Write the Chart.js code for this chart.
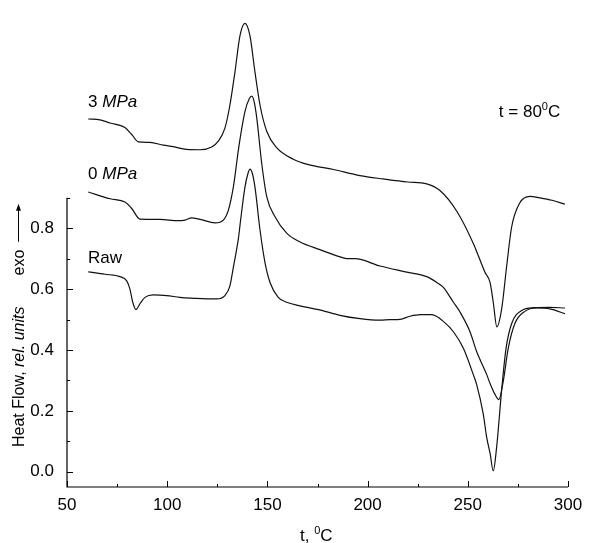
<!DOCTYPE html>
<html>
<head>
<meta charset="utf-8">
<script src="https://cdn.jsdelivr.net/npm/chart.js@4.4.0/dist/chart.umd.min.js"></script>
<style>
  html, body { margin: 0; padding: 0; background: #fff; }
  #wrap { width: 601px; height: 543px; }
</style>
</head>
<body>
<div id="wrap"><canvas id="chart"></canvas></div>
<script>
// DSC curves (t in degC, heat flow in rel. units)
const rawT = [60.6, 69.0, 76.4, 79.8, 81.4, 82.8, 84.4, 86.4, 88.9, 93.1, 99.7, 106.4, 113.0, 119.7, 124.7, 128.8, 131.3, 133.1, 135.5, 136.6, 138.8, 140.3, 141.3, 142.5, 143.8, 146.3, 148.8, 151.3, 155.4, 160.0, 166.3, 177.1, 186.2, 196.2, 206.2, 211.2, 216.2, 221.2, 226.4, 232.0, 238.5, 242.8, 247.8, 252.7, 254.4, 257.7, 259.4, 261.1, 262.7, 264.4, 266.9, 269.1, 271.9, 276.9, 282.7, 291.0, 298.5];
const rawHF = [0.657, 0.649, 0.641, 0.627, 0.600, 0.557, 0.533, 0.552, 0.573, 0.581, 0.579, 0.573, 0.570, 0.568, 0.568, 0.579, 0.611, 0.675, 0.765, 0.825, 0.935, 0.980, 0.994, 0.980, 0.935, 0.795, 0.687, 0.622, 0.573, 0.556, 0.545, 0.530, 0.514, 0.503, 0.498, 0.500, 0.501, 0.511, 0.516, 0.516, 0.490, 0.460, 0.406, 0.320, 0.287, 0.190, 0.114, 0.061, 0.003, 0.082, 0.270, 0.406, 0.487, 0.530, 0.539, 0.540, 0.538];

const mpa0T = [60.6, 71.5, 78.9, 82.3, 86.4, 96.4, 105.5, 108.9, 112.2, 116.4, 123.9, 128.0, 130.5, 133.0, 135.8, 138.8, 141.0, 142.2, 143.4, 144.7, 147.2, 149.7, 153.8, 159.6, 166.3, 176.2, 187.9, 190.5, 193.7, 206.2, 219.5, 229.5, 234.5, 237.8, 242.8, 246.1, 251.1, 254.4, 259.4, 261.1, 263.5, 265.5, 267.7, 270.2, 273.5, 278.5, 284.4, 291.0, 298.5];
const mpa0HF = [0.919, 0.897, 0.886, 0.865, 0.830, 0.829, 0.825, 0.827, 0.834, 0.829, 0.818, 0.827, 0.859, 0.935, 1.070, 1.183, 1.226, 1.234, 1.215, 1.162, 1.011, 0.903, 0.838, 0.784, 0.755, 0.730, 0.703, 0.700, 0.700, 0.676, 0.656, 0.641, 0.622, 0.606, 0.557, 0.525, 0.460, 0.395, 0.320, 0.290, 0.255, 0.237, 0.298, 0.406, 0.487, 0.527, 0.538, 0.535, 0.519];

const mpa3T = [60.6, 66.5, 71.5, 78.9, 82.3, 85.6, 91.4, 98.1, 103.0, 109.7, 116.4, 122.2, 125.5, 128.8, 131.3, 133.8, 136.3, 138.8, 141.3, 143.8, 146.3, 149.7, 154.6, 162.9, 170.0, 183.0, 196.2, 207.8, 220.0, 229.5, 236.1, 244.5, 252.7, 258.6, 261.1, 262.7, 264.5, 266.9, 269.4, 271.9, 276.0, 281.0, 286.0, 292.0, 298.5];
const mpa3HF = [1.159, 1.156, 1.146, 1.131, 1.108, 1.084, 1.082, 1.073, 1.068, 1.059, 1.058, 1.067, 1.086, 1.129, 1.205, 1.313, 1.432, 1.473, 1.432, 1.313, 1.205, 1.118, 1.065, 1.027, 1.010, 0.993, 0.973, 0.962, 0.952, 0.946, 0.924, 0.856, 0.751, 0.655, 0.622, 0.557, 0.476, 0.535, 0.676, 0.805, 0.884, 0.905, 0.900, 0.892, 0.879];

// Ticks
const xTicks = [50, 75, 100, 125, 150, 175, 200, 225, 250, 275, 300];
const xLabels = [50, 100, 150, 200, 250, 300];
const yTicks = [0, 0.1, 0.2, 0.3, 0.4, 0.5, 0.6, 0.7, 0.8, 0.9];
const yLabels = ['0.0', '0.2', '0.4', '0.6', '0.8'];

const FONT = '"Liberation Sans", Arial, sans-serif';

function toPoints(xs, ys) {
    return xs.map((v, i) => ({ x: v, y: ys[i] }));
}

function curve(xs, ys) {
    return {
        data: toPoints(xs, ys),
        borderColor: '#111',
        borderWidth: 1.2,
        pointRadius: 0,
        fill: false,
        cubicInterpolationMode: 'monotone'
    };
}

// Draws the open axes with inward ticks, the titles and the curve labels
const axesPlugin = {
    id: 'axes',
    afterDraw(chart) {
        const ctx = chart.ctx;
        const x = chart.scales.x;
        const y = chart.scales.y;
        const left = x.getPixelForValue(50);
        const right = x.getPixelForValue(300);
        const bottom = y.getPixelForValue(y.min);

        ctx.save();
        ctx.strokeStyle = '#000';
        ctx.lineWidth = 1.2;
        ctx.beginPath();
        ctx.moveTo(left, y.getPixelForValue(0.9));
        ctx.lineTo(left, bottom);
        ctx.lineTo(right, bottom);
        ctx.stroke();

        ctx.lineWidth = 1;
        ctx.beginPath();
        xTicks.forEach(v => {
            const px = Math.round(x.getPixelForValue(v)) + 0.5;
            const len = xLabels.includes(v) ? 6 : 3;
            ctx.moveTo(px, bottom);
            ctx.lineTo(px, bottom - len);
        });
        yTicks.forEach(v => {
            const py = Math.round(y.getPixelForValue(v)) + 0.5;
            const len = yLabels.includes(v.toFixed(1)) ? 6 : 3;
            ctx.moveTo(left, py);
            ctx.lineTo(left + len, py);
        });
        ctx.stroke();

        ctx.fillStyle = '#000';
        ctx.textBaseline = 'alphabetic';
        ctx.textAlign = 'left';

        // Curve labels
        const label = (parts, px, py) => {
            let cx = px;
            parts.forEach(p => {
                ctx.font = p[1] + ' 17px ' + FONT;
                ctx.fillText(p[0], cx, py);
                cx += ctx.measureText(p[0]).width;
            });
        };
        label([['3 ', ''], ['MPa', 'italic']], x.getPixelForValue(60.5), y.getPixelForValue(1.199));
        label([['0 ', ''], ['MPa', 'italic']], x.getPixelForValue(60.5), y.getPixelForValue(0.962));
        label([['Raw', '']], x.getPixelForValue(60.5), y.getPixelForValue(0.687));

        // t = 80 0C
        let tx = x.getPixelForValue(265.5);
        const ty = y.getPixelForValue(1.166);
        ctx.font = '17px ' + FONT;
        ctx.fillText('t = 80', tx, ty);
        tx += ctx.measureText('t = 80').width;
        ctx.font = '11px ' + FONT;
        ctx.fillText('0', tx, ty - 7);
        tx += ctx.measureText('0').width;
        ctx.font = '17px ' + FONT;
        ctx.fillText('C', tx, ty);

        // x title
        let ax = 300;
        ctx.font = '17px ' + FONT;
        ctx.fillText('t, ', ax, 541);
        ax += ctx.measureText('t, ').width;
        ctx.font = '11px ' + FONT;
        ctx.fillText('0', ax, 534);
        ax += ctx.measureText('0').width;
        ctx.font = '17px ' + FONT;
        ctx.fillText('C', ax, 541);

        // y title, rotated
        ctx.translate(24, 447);
        ctx.rotate(-Math.PI / 2);
        let ay = 0;
        ctx.font = '16px ' + FONT;
        ctx.fillText('Heat Flow, ', ay, 0);
        ay += ctx.measureText('Heat Flow, ').width;
        ctx.font = 'italic 16px ' + FONT;
        ctx.fillText('rel. units', ay, 0);
        ay += ctx.measureText('rel. units').width + 31;
        ctx.font = '16px ' + FONT;
        ctx.fillText('exo', ay, 0);
        ay += ctx.measureText('exo').width + 8;
        ctx.beginPath();
        ctx.moveTo(ay, -5.5);
        ctx.lineTo(ay + 36, -5.5);
        ctx.stroke();
        ctx.beginPath();
        ctx.moveTo(ay + 38, -5.5);
        ctx.lineTo(ay + 31, -8);
        ctx.lineTo(ay + 31, -3);
        ctx.closePath();
        ctx.fill();
        ctx.restore();
    }
};

const ctx = document.getElementById('chart').getContext('2d');

const chart = new Chart(ctx, {
    type: 'line',
    data: {
        datasets: [curve(rawT, rawHF), curve(mpa0T, mpa0HF), curve(mpa3T, mpa3HF)]
    },
    options: {
        animation: false,
        responsive: true,
        maintainAspectRatio: false,
        layout: { padding: { top: 9, right: 33, left: 0, bottom: 0 }, autoPadding: false },
        plugins: { legend: { display: false }, tooltip: { enabled: false } },
        scales: {
            x: {
                type: 'linear',
                min: 50,
                max: 300,
                grid: { display: false },
                border: { display: false },
                afterBuildTicks: s => { s.ticks = xTicks.map(v => ({ value: v })); },
                afterFit: s => { s.height = 56; },
                ticks: {
                    autoSkip: false,
                    maxRotation: 0,
                    padding: 0,
                    color: '#000',
                    font: { family: FONT, size: 17 },
                    callback: v => xLabels.includes(v) ? String(v) : ''
                }
            },
            y: {
                type: 'linear',
                min: -0.05,
                max: 1.5,
                grid: { display: false },
                border: { display: false },
                afterBuildTicks: s => { s.ticks = yTicks.map(v => ({ value: v })); },
                afterFit: s => { s.width = 67; },
                ticks: {
                    autoSkip: false,
                    padding: 5,
                    color: '#000',
                    font: { family: FONT, size: 17 },
                    callback: v => yLabels.includes(v.toFixed(1)) ? v.toFixed(1) : ''
                }
            }
        }
    },
    plugins: [axesPlugin]
});
</script>
</body>
</html>
